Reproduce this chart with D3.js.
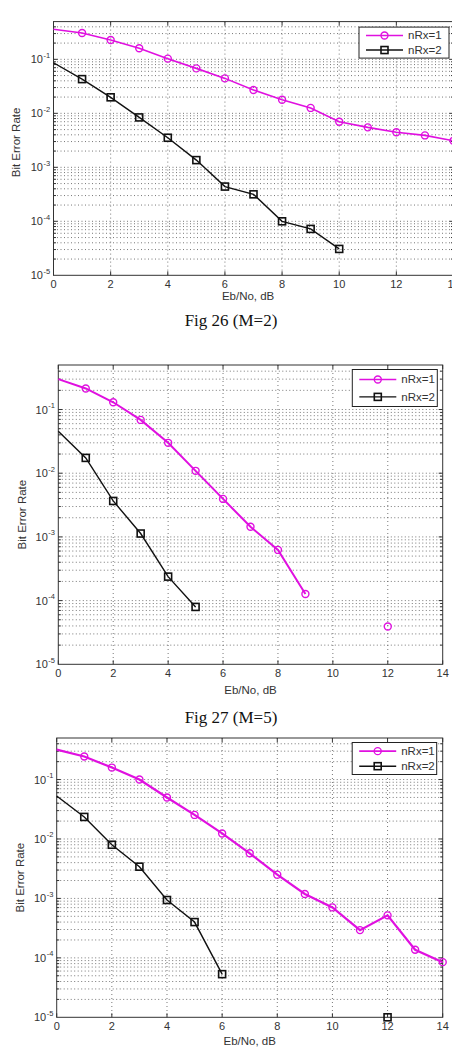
<!DOCTYPE html>
<html lang="en">
<head>
    <meta charset="UTF-8">
    <title>Bit Error Rate vs Eb/No</title>
    <script src="https://cdn.jsdelivr.net/npm/d3@7/dist/d3.min.js"></script>
    <style>
        body { margin: 0; background: #fff; }
        svg { display: block; }
        .tick-text { font-family: "Liberation Sans", Arial, sans-serif; fill: #333; }
        .caption { font-family: "Liberation Serif", "Times New Roman", serif; fill: #111; }
    </style>
</head>
<body>
    <svg id="chart" width="452" height="1060"></svg>
    <script>
        // Eb/No values (dB)
        const ebno = [0, 1, 2, 3, 4, 5, 6, 7, 8, 9, 10, 11, 12, 13, 14];
        const xTicks = [0, 2, 4, 6, 8, 10, 12, 14];
        const yTickExps = [-5, -4, -3, -2, -1];
        const seriesNames = ['nRx=1', 'nRx=2'];

        // Fig 26 (M=2)
        const ber26rx1 = [0.36, 0.307, 0.228, 0.16, 0.103, 0.068, 0.0444, 0.027, 0.0179, 0.0126, 0.0070, 0.0055, 0.00445, 0.0039, 0.0031];
        const ber26rx2 = [0.0865, 0.043, 0.0198, 0.0084, 0.00353, 0.00136, 0.00044, 0.000316, 0.0001, 0.0000723, 0.0000308, null, null, null, null];

        // Fig 27 (M=5)
        const ber27rx1 = [0.30, 0.214, 0.130, 0.0687, 0.030, 0.0109, 0.00395, 0.00144, 0.000625, 0.000127, null, null, 0.0000392, null, null];
        const ber27rx2 = [0.0457, 0.0174, 0.00367, 0.00113, 0.000238, 0.0000796, null, null, null, null, null, null, null, null, null];

        // third figure (caption cropped)
        const ber28rx1 = [0.319, 0.244, 0.159, 0.1, 0.0498, 0.0254, 0.0124, 0.00575, 0.00251, 0.00119, 0.000706, 0.000293, 0.000518, 0.000137, 0.0000847];
        const ber28rx2 = [0.053, 0.0235, 0.008, 0.00342, 0.00094, 0.0004, 0.0000532, null, null, null, null, null, 0.00001, null, null];

        const svg = d3.select('#chart');
        const magenta = '#e010e0';

        const charts = [
            { rx1: ber26rx1, rx2: ber26rx2, caption: 'Fig 26 (M=2)',
              left: 53.5, right: 453.5, top: 21.6, bottom: 275.3,
              xLabelDy: 25, yLabelX: 20, yLabelShift: -6, captionY: 326, lw1: 1.6,
              legend: { w: 90, h: 31, dx: 4.5, dy: 5.5 } },
            { rx1: ber27rx1, rx2: ber27rx2, caption: 'Fig 27 (M=5)',
              left: 58.3, right: 442.7, top: 365, bottom: 664.3,
              xLabelDy: 30, yLabelX: 26, yLabelShift: 0, captionY: 723, lw1: 2,
              legend: { w: 85, h: 37, dx: 5.4, dy: 4.5 } },
            { rx1: ber28rx1, rx2: ber28rx2, caption: null,
              left: 56.7, right: 442.7, top: 738, bottom: 1017.3,
              xLabelDy: 27.5, yLabelX: 24, yLabelShift: 0, captionY: null, lw1: 2.2,
              legend: { w: 84.5, h: 32, dx: 6, dy: 4.5 } }
        ];

        charts.forEach(drawChart);

        function drawChart(c) {
            const g = svg.append('g');
            const x = d3.scaleLinear().domain([0, 14]).range([c.left, c.right]);
            const y = d3.scaleLog().domain([1e-5, 0.5]).range([c.bottom, c.top]);

            // minor + major y values
            const yGrid = [];
            yTickExps.forEach(e => {
                for (let m = 1; m <= 9; m++) {
                    const v = m * Math.pow(10, e);
                    if (v > 1e-5 && v < 0.5) yGrid.push({ v: v, major: m === 1 });
                }
            });

            const grid = g.append('g')
                .attr('stroke', '#555')
                .attr('stroke-width', 0.8)
                .attr('fill', 'none');

            grid.selectAll('.hg').data(yGrid).enter().append('line')
                .attr('x1', c.left).attr('x2', c.right)
                .attr('y1', d => y(d.v)).attr('y2', d => y(d.v))
                .attr('stroke-dasharray', '1,2.5');

            grid.selectAll('.vg').data(xTicks.slice(1, -1)).enter().append('line')
                .attr('x1', d => x(d)).attr('x2', d => x(d))
                .attr('y1', c.top).attr('y2', c.bottom)
                .attr('stroke-dasharray', '1,3');

            // box
            g.append('rect')
                .attr('x', c.left).attr('y', c.top)
                .attr('width', c.right - c.left).attr('height', c.bottom - c.top)
                .attr('fill', 'none').attr('stroke', '#333').attr('stroke-width', 1);

            // inward ticks
            const ticks = g.append('g').attr('stroke', '#333').attr('stroke-width', 1);
            xTicks.forEach(t => {
                ticks.append('line').attr('x1', x(t)).attr('x2', x(t)).attr('y1', c.bottom).attr('y2', c.bottom - 4);
                ticks.append('line').attr('x1', x(t)).attr('x2', x(t)).attr('y1', c.top).attr('y2', c.top + 4);
            });
            yGrid.forEach(d => {
                const len = d.major ? 4 : 2.5;
                ticks.append('line').attr('x1', c.left).attr('x2', c.left + len).attr('y1', y(d.v)).attr('y2', y(d.v));
                ticks.append('line').attr('x1', c.right).attr('x2', c.right - len).attr('y1', y(d.v)).attr('y2', y(d.v));
            });

            // x tick labels
            g.selectAll('.xl').data(xTicks).enter().append('text')
                .attr('class', 'tick-text')
                .attr('x', d => x(d)).attr('y', c.bottom + 13)
                .attr('text-anchor', 'middle')
                .style('font-size', '11px')
                .text(d => d);

            // y tick labels 10^e
            yTickExps.forEach(e => {
                const yy = y(Math.pow(10, e));
                g.append('text').attr('class', 'tick-text')
                    .attr('x', c.left - 10.5).attr('y', yy + 4)
                    .attr('text-anchor', 'end')
                    .style('font-size', '11px')
                    .text('10');
                g.append('text').attr('class', 'tick-text')
                    .attr('x', c.left - 10).attr('y', yy - 1.5)
                    .style('font-size', '7.5px')
                    .text('-' + Math.abs(e));
            });

            // axis labels
            g.append('text').attr('class', 'tick-text')
                .attr('x', (c.left + Math.min(c.right, 442.7)) / 2)
                .attr('y', c.bottom + c.xLabelDy)
                .attr('text-anchor', 'middle')
                .style('font-size', '11.5px')
                .text('Eb/No, dB');

            const ymid = (c.top + c.bottom) / 2 + c.yLabelShift;
            g.append('text').attr('class', 'tick-text')
                .attr('transform', `translate(${c.yLabelX},${ymid}) rotate(-90)`)
                .attr('text-anchor', 'middle')
                .style('font-size', '11.5px')
                .text('Bit Error Rate');

            // series
            const pts1 = ebno.map((v, i) => ({ x: v, y: c.rx1[i] }));
            const pts2 = ebno.map((v, i) => ({ x: v, y: c.rx2[i] }));
            const line = d3.line()
                .defined(d => d.y != null)
                .x(d => x(d.x)).y(d => y(d.y));

            g.append('path').datum(pts2)
                .attr('d', line).attr('fill', 'none')
                .attr('stroke', '#111').attr('stroke-width', 1.4);
            g.append('path').datum(pts1)
                .attr('d', line).attr('fill', 'none')
                .attr('stroke', magenta).attr('stroke-width', c.lw1);

            g.selectAll('.sq').data(pts2.filter(d => d.y != null && d.x > 0)).enter().append('rect')
                .attr('x', d => x(d.x) - 3.5).attr('y', d => y(d.y) - 3.5)
                .attr('width', 7).attr('height', 7)
                .attr('fill', 'none').attr('stroke', '#111').attr('stroke-width', 1.6);
            g.selectAll('.ci').data(pts1.filter(d => d.y != null && d.x > 0)).enter().append('circle')
                .attr('cx', d => x(d.x)).attr('cy', d => y(d.y)).attr('r', 3.5)
                .attr('fill', 'none').attr('stroke', magenta).attr('stroke-width', 1.4);

            // legend
            const L = c.legend;
            const lx = Math.min(c.right, 453.5) - L.dx - L.w;
            const ly = c.top + L.dy;
            const lg = g.append('g').attr('transform', `translate(${lx},${ly})`);
            lg.append('rect').attr('width', L.w).attr('height', L.h)
                .attr('fill', '#fff').attr('stroke', '#222').attr('stroke-width', 1);
            const rows = [L.h * 0.27, L.h * 0.74];
            seriesNames.forEach((name, i) => {
                const col = i === 0 ? magenta : '#111';
                const ry = rows[i];
                lg.append('line').attr('x1', 7).attr('x2', 44).attr('y1', ry).attr('y2', ry)
                    .attr('stroke', col).attr('stroke-width', i === 0 ? 1.6 : 1.4);
                if (i === 0) {
                    lg.append('circle').attr('cx', 25.5).attr('cy', ry).attr('r', 3.5)
                        .attr('fill', 'none').attr('stroke', col).attr('stroke-width', 1.4);
                } else {
                    lg.append('rect').attr('x', 22).attr('y', ry - 3.5).attr('width', 7).attr('height', 7)
                        .attr('fill', 'none').attr('stroke', col).attr('stroke-width', 1.6);
                }
                lg.append('text').attr('class', 'tick-text')
                    .attr('x', 49).attr('y', ry + 4)
                    .style('font-size', '11.5px')
                    .text(name);
            });

            if (c.caption) {
                svg.append('text').attr('class', 'caption')
                    .attr('x', 231).attr('y', c.captionY)
                    .attr('text-anchor', 'middle')
                    .style('font-size', '17px')
                    .text(c.caption);
            }
        }
    </script>
</body>
</html>
